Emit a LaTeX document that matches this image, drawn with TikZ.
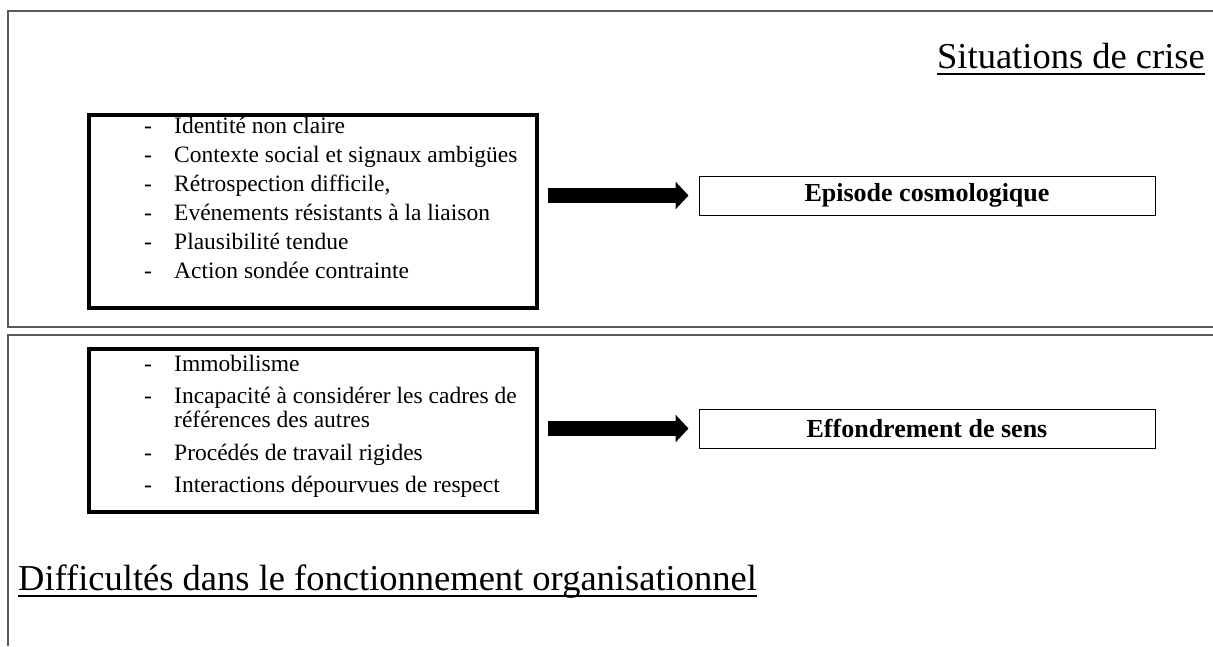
\documentclass[tikz,border=0pt]{standalone}
\usepackage{fontspec}
\setmainfont{Liberation Serif}
\usetikzlibrary{arrows.meta}
\begin{document}
\begin{tikzpicture}[x=1pt,y=-1pt,
 frameline/.style={draw=black!65,line width=1.3pt},
 listbox/.style={draw,line width=3.5pt,anchor=north west,inner sep=0pt},
 resultbox/.style={draw,line width=1pt,minimum width=456pt,minimum height=39pt,inner sep=0pt,font=\fontsize{26}{30}\selectfont\bfseries},
 item/.style={anchor=base west,inner sep=0pt,font=\fontsize{23.5}{28}\selectfont},
 heading/.style={inner sep=0pt,font=\fontsize{36.5}{40}\selectfont},
 blockarrow/.style={line width=15pt,-{Triangle[length=13pt,width=27pt]},shorten <=9pt,shorten >=10pt}]
 \useasboundingbox (0,0) rectangle (1213,646);
 \draw[frameline] (1213,11) -| (8,327) -- (1213,327);
 \draw[frameline] (1213,335) -| (8,646);
 \node[heading,anchor=base east] (crisetitle) at (1205,68) {Situations de crise};
 \draw[line width=1.2pt] ([yshift=-6pt]crisetitle.base west) -- ([yshift=-6pt]crisetitle.base east);
 \node[heading,anchor=base west] (orgtitle) at (18,590) {Difficultés dans le fonctionnement organisationnel};
 \draw[line width=1.2pt] ([yshift=-6pt]orgtitle.base west) -- ([yshift=-6pt]orgtitle.base east);
 \node[listbox,minimum width=448pt,minimum height=193pt] (crisebox) at (87,113) {};
 \node[item] (c1) at (144,133) {\makebox[30pt][l]{-}Identité non claire};
 \node[item] (c2) at (144,162) {\makebox[30pt][l]{-}Contexte social et signaux ambigües};
 \node[item] (c3) at (144,191) {\makebox[30pt][l]{-}Rétrospection difficile,};
 \node[item] (c4) at (144,220) {\makebox[30pt][l]{-}Evénements résistants à la liaison};
 \node[item] (c5) at (144,249) {\makebox[30pt][l]{-}Plausibilité tendue};
 \node[item] (c6) at (144,278) {\makebox[30pt][l]{-}Action sondée contrainte};
 \node[listbox,minimum width=448pt,minimum height=163pt] (orgbox) at (87,347) {};
 \node[item] (o1) at (144,371) {\makebox[30pt][l]{-}Immobilisme};
 \node[item] (o2) at (144,403) {\makebox[30pt][l]{-}Incapacité à considérer les cadres de};
 \node[item] (o3) at (174,427) {références des autres};
 \node[item] (o4) at (144,460) {\makebox[30pt][l]{-}Procédés de travail rigides};
 \node[item] (o5) at (144,492) {\makebox[30pt][l]{-}Interactions dépourvues de respect};
 \node[resultbox] (episode) at (927,195.5) {Episode cosmologique};
 \node[resultbox] (collapse) at (927,428.5) {Effondrement de sens};
 \draw[blockarrow] (crisebox.east |- episode.west) -- (episode.west);
 \draw[blockarrow] (orgbox.east |- collapse.west) -- (collapse.west);
\end{tikzpicture}
\end{document}
